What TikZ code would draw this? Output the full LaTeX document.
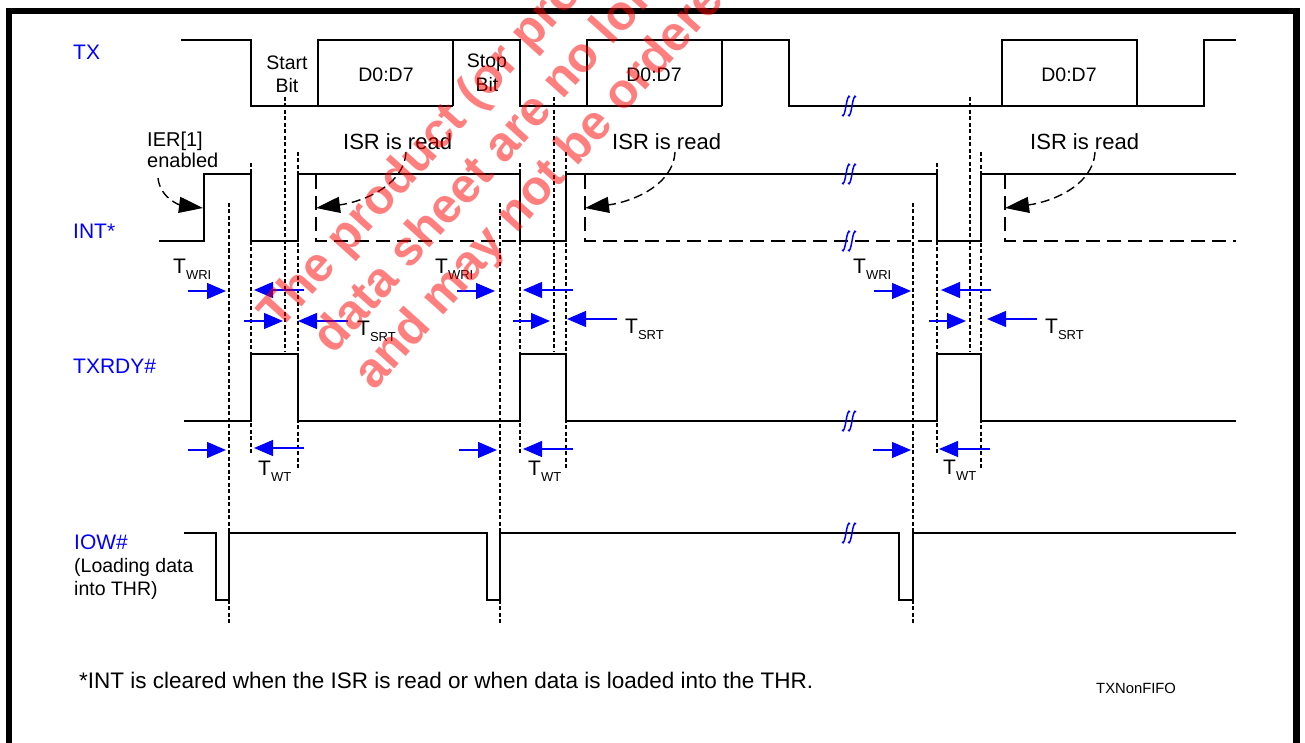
\documentclass[tikz,border=0pt]{standalone}
\usepackage{fontspec}
\setmainfont{Liberation Sans}
\usetikzlibrary{arrows.meta}
\newcommand\fsz[1]{\fontsize{#1}{#1}\selectfont}
\newcommand\tsub[2]{#1\raisebox{-6pt}{\fsz{13}#2}}
\tikzset{
  brkmark/.pic={
    \draw[blue,line width=1.5pt] (-7,9) .. controls (-5.5,12) and (-4,6) .. (-3,0) .. controls (-2,-6) and (-0.5,-12) .. (1,-9);
    \draw[blue,line width=1.5pt] (-1,9) .. controls (0.5,12) and (2,6) .. (3,0) .. controls (4,-6) and (5.5,-12) .. (7,-9);
  }
}
\begin{document}
\begin{tikzpicture}[x=1pt,y=-1pt,
  sig/.style={line width=1.8pt, line join=miter},
  guide/.style={line width=1.3pt, dash pattern=on 4pt off 2.5pt},
  lowdash/.style={line width=1.8pt, dash pattern=on 14pt off 7pt},
  curvarr/.style={line width=1.4pt, dash pattern=on 9pt off 5pt, -{Triangle[length=24pt,width=16pt]}},
  tarr/.style={blue, line width=1.2pt, -{Triangle[length=19pt,width=16pt]}},
  lbl/.style={text=blue, font=\fsz{21}, anchor=base west, inner sep=0pt},
  txt/.style={font=\fsz{19.5}, anchor=base, inner sep=0pt},
  isr/.style={font=\fsz{22}, anchor=base west, inner sep=0pt},
  tlab/.style={font=\fsz{21}, anchor=base west, inner sep=0pt},
  wm/.style={rotate=48, anchor=base west, inner sep=0pt, text=red, text opacity=0.5, font=\bfseries\fsz{49}}
]
\useasboundingbox (0,0) rectangle (1305,743);
\fill[white] (0,0) rectangle (1305,743);
% frame
\draw[line width=6.5pt] (9,11) rectangle (1296.5,780);

% ---------- TX ----------
\draw[sig] (181,40) -| (251,106) -- (453,106);
\draw[sig] (318,106) |- (520,40) |- (722,106);
\draw[sig] (453,106) -- (453,40);
\draw[sig] (587,106) |- (789,40) |- (1204,106) |- (1236,40);
\draw[sig] (722,106) -- (722,40);
\draw[sig] (1002,106) |- (1137,40) -- (1137,106);

% ---------- INT* ----------
\draw[sig] (159,241) -| (204,174) -| (251,241) -| (298,174) -| (520,241) -| (566,174) -| (937,241) -| (981,174) -- (1236,174);
\draw[lowdash] (316,175) -- (316,241) -- (520,241);
\draw[lowdash] (585,175) -- (585,241) -- (937,241);
\draw[lowdash] (1005,175) -- (1005,241) -- (1236,241);

% ---------- TXRDY# ----------
\draw[sig] (184,421) -| (251,354) -| (298,421) -| (520,354) -| (566,421) -| (937,354) -| (981,421) -- (1236,421);

% ---------- IOW# ----------
\draw[sig] (184,533) -| (216,600) -| (229,533) -| (487,600) -| (500,533) -| (899,600) -| (913,533) -- (1236,533);

% ---------- guide lines ----------
\foreach \a/\b/\c/\d in {229/251/285/298, 500/520/554/566, 913/937/970/981}{
  \draw[guide] (\a,203) -- (\a,623);
  \draw[guide] (\b,163) -- (\b,453);
  \draw[guide] (\c,97) -- (\c,352);
  \draw[guide] (\d,152) -- (\d,470);
}

% ---------- breaks ----------
\foreach \yy in {106,174,241,421,533}{ \pic at (849,\yy) {brkmark}; }

% ---------- timing arrows ----------
% group 1
\draw[tarr] (188,291) -- (226,291);
\draw[tarr] (304,290) -- (254,290);
\draw[tarr] (244,321) -- (283,321);
\draw[tarr] (348,321) -- (298,321);
\draw[tarr] (188,450) -- (226,450);
\draw[tarr] (304,448) -- (254,448);
% group 2
\draw[tarr] (457,291) -- (495,291);
\draw[tarr] (573,290) -- (523,290);
\draw[tarr] (513,321) -- (550,321);
\draw[tarr] (617,319) -- (567,319);
\draw[tarr] (459,450) -- (497,450);
\draw[tarr] (573,449) -- (523,449);
% group 3
\draw[tarr] (874,291) -- (911,291);
\draw[tarr] (991,290) -- (941,290);
\draw[tarr] (929,321) -- (966,321);
\draw[tarr] (1037,319) -- (987,319);
\draw[tarr] (873,450) -- (911,450);
\draw[tarr] (990,449) -- (939,449);

% ---------- timing labels ----------
\node[tlab] (twri1) at (173,273) {\tsub{T}{WRI}};
\node[tlab] (twri2) at (435,273) {\tsub{T}{WRI}};
\node[tlab] (twri3) at (853,273) {\tsub{T}{WRI}};
\node[tlab] (tsrt1) at (357,335) {\tsub{T}{SRT}};
\node[tlab] (tsrt2) at (625,333) {\tsub{T}{SRT}};
\node[tlab] (tsrt3) at (1045,333) {\tsub{T}{SRT}};
\node[tlab] (twt1) at (258,475) {\tsub{T}{WT}};
\node[tlab] (twt2) at (528,475) {\tsub{T}{WT}};
\node[tlab] (twt3) at (943,474) {\tsub{T}{WT}};

% ---------- curved arrows ----------
\draw[curvarr] (158,178) .. controls (160,198) and (180,205) .. (203,208);
\foreach \dx in {0,269,689}{
  \draw[curvarr] (406+\dx,152) .. controls (404+\dx,186) and (362+\dx,202) .. (316+\dx,208);
}

% ---------- signal labels ----------
\node[lbl] (ltx) at (73,60) {TX};
\node[lbl] (lint) at (73,239) {INT*};
\node[lbl] (lrdy) at (73,373) {TXRDY\#};
\node[lbl] (liow) at (74,549) {IOW\#};
\node[tlab,font=\fsz{19.5}] (lload1) at (74,572) {(Loading data};
\node[tlab,font=\fsz{19.5}] (lload2) at (74,595) {into THR)};

% ---------- texts ----------
\node[txt] (start1) at (287,70) {Start};
\node[txt] (start2) at (287,93) {Bit};
\node[txt] (stop1) at (487,68) {Stop};
\node[txt] (stop2) at (487,92) {Bit};
\node[txt] (d1) at (386,82) {D0:D7};
\node[txt] (d2) at (654,82) {D0:D7};
\node[txt] (d3) at (1069,82) {D0:D7};
\node[isr] (isr1) at (343,150) {ISR is read};
\node[isr] (isr2) at (612,150) {ISR is read};
\node[isr] (isr3) at (1030,150) {ISR is read};
\node[tlab,font=\fsz{20}] (ier1) at (147,147) {IER[1]};
\node[tlab,font=\fsz{20}] (ier2) at (147,168) {enabled};

\node[tlab,font=\fsz{22.5}] (note) at (79,688) {*INT is cleared when the ISR is read or when data is loaded into the THR.};
\node[tlab,font=\fsz{14.8}] (fig) at (1096,693) {TXNonFIFO};

% ---------- watermark ----------
\node[wm] (wm1) at (279,332) {The product (or product line)};
\node[wm] (wm2) at (333,356) {data sheet are no longer};
\node[wm] (wm3) at (374,392) {and may not be ordered};
\end{tikzpicture}
\end{document}
